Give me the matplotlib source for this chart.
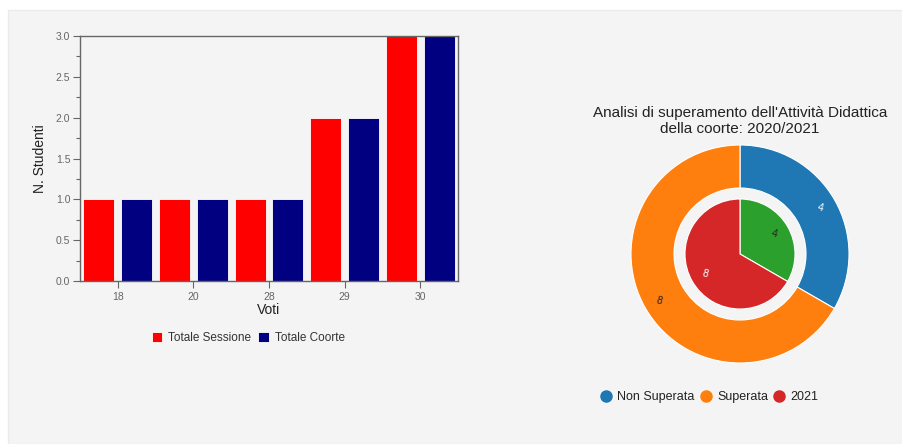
import matplotlib.pyplot as plt
import numpy as np
from matplotlib.patches import Rectangle
from matplotlib.lines import Line2D

# grade distribution
voti = ["18", "20", "28", "29", "30"]
totale_sessione = [1, 1, 1, 2, 3]
totale_coorte = [1, 1, 1, 2, 3]

# pass / fail analysis
esito_labels = ["Non Superata", "Superata"]
esito_values = [4, 8]
anno_labels = ["", "2021"]
anno_values = [4, 8]

BG = "#f4f4f4"
plt.rcParams["font.family"] = ["Liberation Sans", "DejaVu Sans"]

W, H = 902, 444
fig = plt.figure(figsize=(W / 100, H / 100), dpi=100)
fig.patch.set_facecolor("white")
fig.patches.append(Rectangle((8 / W, 0), 1, 1 - 10 / H, transform=fig.transFigure,
                             facecolor=BG, edgecolor="#ebebeb", lw=1, zorder=-5))


def px_axes(x0, y0, x1, y1):
    return fig.add_axes([x0 / W, 1 - y1 / H, (x1 - x0) / W, (y1 - y0) / H])


# --- bar chart ---
ax = px_axes(80, 36, 458, 281)
ax.set_facecolor(BG)
x = np.arange(len(voti))
ax.bar(x - 0.25, totale_sessione, 0.41, color="#ff0000", edgecolor="white", lw=0.6,
       label="Totale Sessione")
ax.bar(x + 0.25, totale_coorte, 0.41, color="#000080", edgecolor="white", lw=0.6,
       label="Totale Coorte")
ax.set_xlim(-0.5, len(voti) - 0.5)
ax.set_ylim(0, 3)
ax.set_xticks(x)
ax.set_xticklabels(voti)
ax.set_yticks(np.arange(0, 3.01, 0.5))
ax.set_yticklabels([f"{v:.1f}" for v in np.arange(0, 3.01, 0.5)])
ax.set_yticks(np.arange(0.25, 3, 0.5), minor=True)
for s in ax.spines.values():
    s.set_color("#666666")
    s.set_linewidth(1)
ax.tick_params(axis="both", labelsize=7.5, colors="#666666", length=5, width=0.8, pad=2)
ax.tick_params(axis="y", which="minor", length=3, width=0.8, colors="#666666")
ax.tick_params(axis="x", pad=3)
for t in ax.get_xticklabels() + ax.get_yticklabels():
    t.set_color("#666666")
ax.set_xlabel("Voti", fontsize=10, color="#222222", labelpad=1)
ax.set_ylabel("N. Studenti", fontsize=10, color="#222222", labelpad=6)
leg = ax.legend(loc="upper center", bbox_to_anchor=(0.445, -0.165), ncol=2, frameon=False,
                fontsize=8.5, handlelength=0.9, handleheight=0.9, handletextpad=0.5,
                columnspacing=0.6)
for t in leg.get_texts():
    t.set_color("#333333")

# --- donut chart ---
cx, cy, half = 740, 254, 130
pax = px_axes(cx - half, cy - half, cx + half, cy + half)
pax.set_aspect("equal")
pax.axis("off")

outer_colors = ["#1f77b4", "#ff7f0e"]
inner_colors = ["#2ca02c", "#d62728"]
pax.pie(esito_values, radius=1.09, startangle=90, counterclock=False,
        colors=outer_colors, wedgeprops=dict(width=0.43, edgecolor="white", linewidth=0.8))
pax.pie(anno_values, radius=0.55, startangle=90, counterclock=False,
        colors=inner_colors, wedgeprops=dict(edgecolor="white", linewidth=0.8))
pax.set_xlim(-1.3, 1.3)
pax.set_ylim(-1.3, 1.3)


def wedge_labels(values, r, colors):
    total = sum(values)
    start = 90.0
    for v, c in zip(values, colors):
        mid = np.deg2rad(start - 360 * v / total / 2)
        pax.text(r * np.cos(mid), r * np.sin(mid), str(v), color=c, fontsize=7.5,
                 ha="center", va="center", rotation=-15)
        start -= 360 * v / total


wedge_labels(esito_values, 0.93, ["white", "#222222"])
wedge_labels(anno_values, 0.40, ["#222222", "white"])

fig.text(cx / W, 1 - 121 / H, "Analisi di superamento dell'Attività Didattica\ndella coorte: 2020/2021",
         ha="center", va="center", fontsize=11, color="#222222", linespacing=1.1)

handles = [Line2D([], [], marker="o", ls="", color=c, markersize=8)
           for c in ["#1f77b4", "#ff7f0e", "#d62728"]]
fig.legend(handles, ["Non Superata", "Superata", "2021"], loc="center",
           bbox_to_anchor=(709 / W, 1 - 397 / H), ncol=3, frameon=False, fontsize=9,
           handlelength=1.0, handletextpad=0.4, columnspacing=0.4, labelcolor="#222222")

fig.savefig("out.png", dpi=100, facecolor=fig.get_facecolor())
